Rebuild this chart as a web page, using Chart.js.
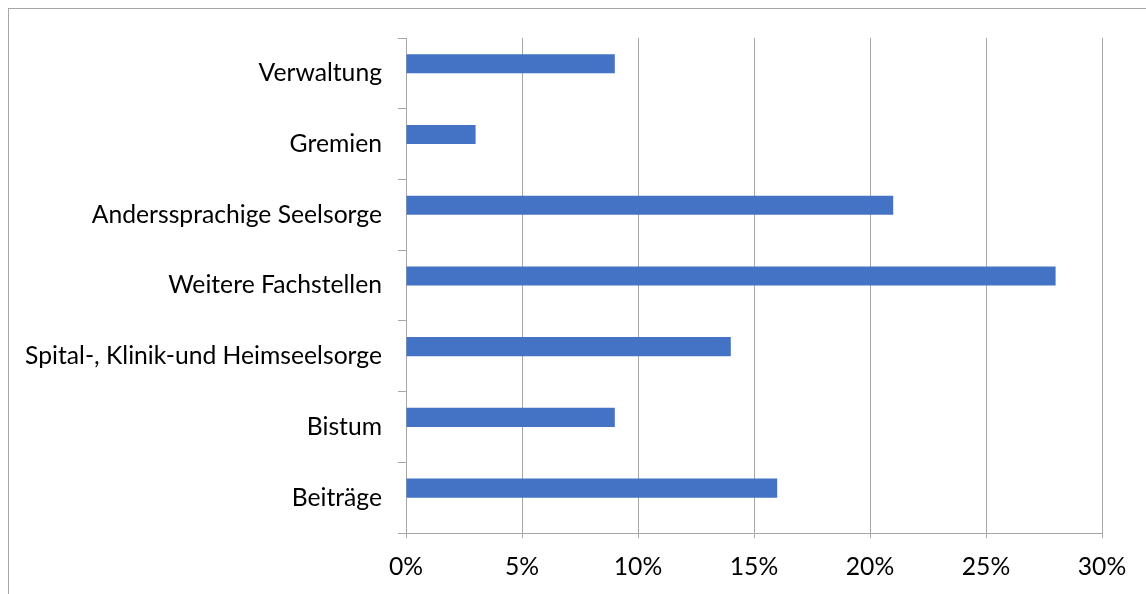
<!DOCTYPE html>
<html>
<head>
<meta charset="utf-8">
<script src="https://cdn.jsdelivr.net/npm/chart.js@4"></script>
<style>
  html, body { margin: 0; padding: 0; background: #fff; overflow: hidden; }
  #wrap { position: relative; width: 1146px; height: 594px; }
  #rahmen { position: absolute; left: 8px; top: 8px; width: 1200px; height: 700px; border: 1px solid #a6a6a6; box-sizing: border-box; }
  canvas { position: absolute; left: 0; top: 0; }
</style>
</head>
<body>
<div id="wrap">
  <div id="rahmen"></div>
  <canvas id="chart" width="1146" height="594"></canvas>
</div>
<script>
// Kategorien und Anteile (in %)
const kategorien = [
  'Verwaltung',
  'Gremien',
  'Anderssprachige Seelsorge',
  'Weitere Fachstellen',
  'Spital-, Klinik-und Heimseelsorge',
  'Bistum',
  'Beiträge'
];
const anteile = [9, 3, 21, 28, 14, 9, 16];
// leere zweite Reihe wie im Original (Balken sitzen in der oberen Hälfte)
const leer = [null, null, null, null, null, null, null];
const xTicks = [0, 5, 10, 15, 20, 25, 30];

const schrift = { family: 'Lato', size: 24.7 };

new Chart(document.getElementById('chart').getContext('2d'), {
  type: 'bar',
  data: {
    labels: kategorien,
    datasets: [
      {
        data: anteile,
        backgroundColor: '#4472C4',
        borderWidth: 0,
        categoryPercentage: 0.54,
        barPercentage: 1
      },
      {
        data: leer,
        backgroundColor: '#4472C4',
        categoryPercentage: 0.54,
        barPercentage: 1
      }
    ]
  },
  options: {
    indexAxis: 'y',
    responsive: false,
    animation: false,
    layout: { padding: { top: 38, right: 44, left: 0, bottom: 0 } },
    plugins: { legend: { display: false }, tooltip: { enabled: false } },
    scales: {
      x: {
        min: xTicks[0],
        max: xTicks[xTicks.length - 1],
        afterBuildTicks: (scale) => { scale.ticks = xTicks.map((v) => ({ value: v })); },
        afterFit: (scale) => { scale.height = 61; },
        ticks: {
          color: '#000',
          font: schrift,
          padding: 14,
          callback: (v) => v + '%'
        },
        grid: { color: '#a6a6a6', lineWidth: 1, tickLength: 5 },
        border: { color: '#a6a6a6' }
      },
      y: {
        afterFit: (scale) => { scale.width = 406; },
        ticks: { color: '#000', font: schrift, padding: 16 },
        grid: { drawOnChartArea: false, color: '#a6a6a6', tickLength: 8, offset: true },
        border: { color: '#a6a6a6' }
      }
    }
  }
});
</script>
</body>
</html>
